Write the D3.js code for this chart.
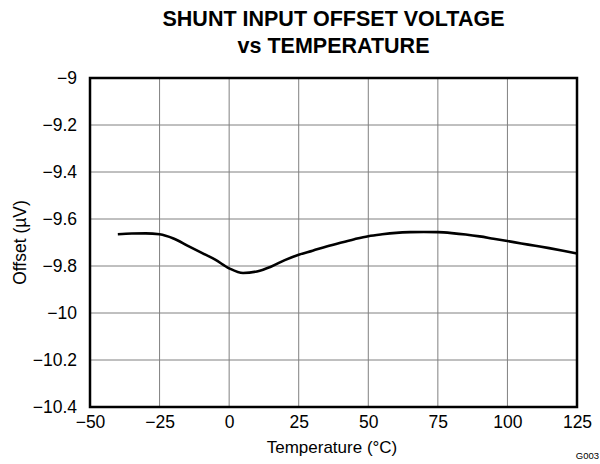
<!DOCTYPE html>
<html><head><meta charset="utf-8">
<script src="https://cdn.jsdelivr.net/npm/d3@7"></script>
<style>body{margin:0;background:#fff}svg{display:block;font-family:"Liberation Sans",Arial,sans-serif}</style>
</head><body><svg id="c" width="600" height="464"></svg>
<script>
const temps = [-40,-35,-30,-25,-20,-15,-10,-5,0,5,10,15,20,25,30,35,40,45,50,55,60,65,70,75,80,85,90,95,100,105,110,115,120,125];
const offsets = [-9.665,-9.662,-9.661,-9.665,-9.683,-9.713,-9.743,-9.773,-9.81,-9.83,-9.823,-9.803,-9.775,-9.752,-9.735,-9.717,-9.701,-9.686,-9.673,-9.665,-9.659,-9.656,-9.655,-9.656,-9.66,-9.666,-9.674,-9.684,-9.694,-9.704,-9.714,-9.724,-9.735,-9.747];
const xTicks = [-50,-25,0,25,50,75,100,125];
const yTicks = [-9,-9.2,-9.4,-9.6,-9.8,-10,-10.2,-10.4];
const titleLines = ["SHUNT INPUT OFFSET VOLTAGE","vs TEMPERATURE"];

const svg = d3.select("#c");
const L=90,R=577,T=78,B=407;
const x = d3.scaleLinear().domain([-50,125]).range([L,R]);
const y = d3.scaleLinear().domain([-10.4,-9]).range([B,T]);
const fmt = v => String(+v.toFixed(1)).replace("-","\u2212");

// grid
svg.append("g").selectAll("line").data(xTicks.slice(1,-1)).join("line")
  .attr("x1",d=>x(d)).attr("x2",d=>x(d)).attr("y1",T).attr("y2",B)
  .attr("stroke","#808080").attr("stroke-width",1);
svg.append("g").selectAll("line").data(yTicks.slice(1,-1)).join("line")
  .attr("y1",d=>y(d)).attr("y2",d=>y(d)).attr("x1",L).attr("x2",R)
  .attr("stroke","#808080").attr("stroke-width",1);

// axes labels via d3 axes
const xa = svg.append("g").attr("transform",`translate(0,${B})`)
  .call(d3.axisBottom(x).tickValues(xTicks).tickSize(0).tickPadding(9).tickFormat(fmt));
const ya = svg.append("g").attr("transform",`translate(${L},0)`)
  .call(d3.axisLeft(y).tickValues(yTicks).tickSize(0).tickPadding(13).tickFormat(fmt));
[xa,ya].forEach(g=>{g.select(".domain").remove();g.selectAll("text").attr("font-size",17.5).attr("fill","#000").attr("font-family","Liberation Sans, Arial, sans-serif");});

// curve
svg.append("path").datum(temps.map((t,i)=>[t,offsets[i]]))
  .attr("d",d3.line().x(d=>x(d[0])).y(d=>y(d[1])).curve(d3.curveMonotoneX))
  .attr("fill","none").attr("stroke","#000").attr("stroke-width",2.6);

// frame
svg.append("rect").attr("x",L).attr("y",T).attr("width",R-L).attr("height",B-T)
  .attr("fill","none").attr("stroke","#000").attr("stroke-width",2.5);

// titles
svg.append("g").selectAll("text").data(titleLines).join("text")
  .attr("x",(L+R)/2).attr("y",(d,i)=>26+i*27).attr("text-anchor","middle")
  .attr("font-weight","bold").attr("font-size",21.5).text(d=>d);
svg.append("text").attr("x",332).attr("y",453).attr("text-anchor","middle")
  .attr("font-size",17).text("Temperature (°C)");
svg.append("text").attr("transform",`translate(26,${(T+B)/2}) rotate(-90)`)
  .attr("text-anchor","middle").attr("font-size",17.5).text("Offset (µV)");
svg.append("text").attr("x",599).attr("y",459).attr("text-anchor","end")
  .attr("font-size",9.5).text("G003");
</script></body></html>
